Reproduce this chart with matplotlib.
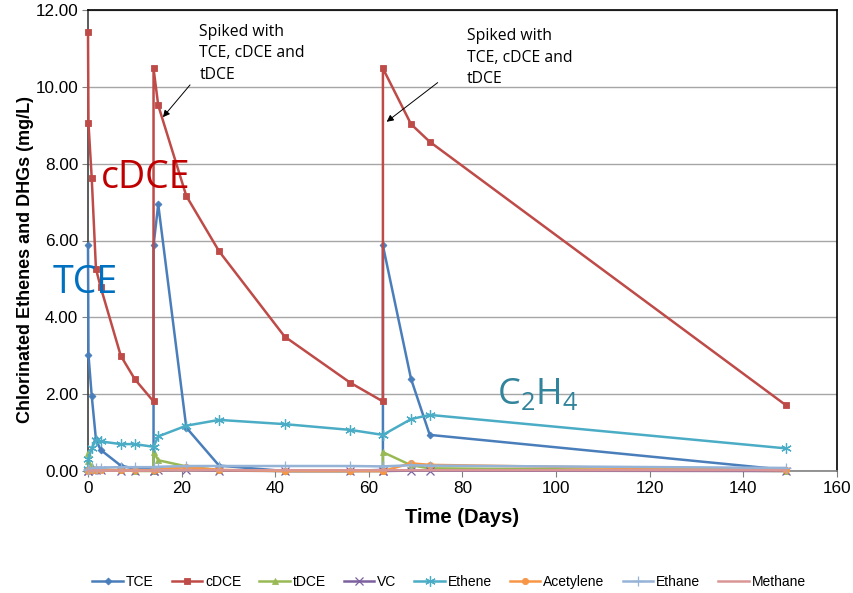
import matplotlib
matplotlib.use("Agg")
import matplotlib.pyplot as plt
import numpy as np

# ---- data ----
days = [0, 0.1, 0.8, 1.7, 2.7, 7, 10, 14, 14, 15, 21, 28, 42, 56, 63, 63, 69, 73, 149]
tce = [5.87, 3.02, 1.95, 0.82, 0.55, 0.14, 0.06, 0.04, 5.87, 6.94, 1.13, 0.14, 0.0, 0.0, 0.03, 5.87, 2.40, 0.94, 0.03]
cdce = [11.43, 9.05, 7.62, 5.26, 4.79, 3.00, 2.39, 1.81, 10.48, 9.52, 7.16, 5.72, 3.50, 2.30, 1.81, 10.48, 9.03, 8.57, 1.72]
tdce = [0.47, 0.25, 0.12, 0.06, 0.04, 0.02, 0.0, 0.0, 0.50, 0.28, 0.12, 0.02, 0.0, 0.0, 0.0, 0.49, 0.15, 0.07, 0.0]
vc = [0.0, 0.01, 0.02, 0.02, 0.02, 0.01, 0.01, 0.01, 0.01, 0.02, 0.03, 0.01, 0.0, 0.0, 0.0, 0.0, 0.01, 0.01, 0.0]
ethene = [0.05, 0.30, 0.60, 0.80, 0.77, 0.70, 0.70, 0.63, 0.63, 0.90, 1.18, 1.33, 1.22, 1.07, 0.94, 0.94, 1.35, 1.46, 0.59]
acetylene = [0.01, 0.02, 0.03, 0.03, 0.03, 0.02, 0.02, 0.02, 0.02, 0.05, 0.10, 0.03, 0.0, 0.0, 0.0, 0.0, 0.20, 0.16, 0.02]
ethane = [0.03, 0.05, 0.07, 0.08, 0.09, 0.10, 0.10, 0.10, 0.10, 0.11, 0.13, 0.13, 0.13, 0.13, 0.12, 0.12, 0.15, 0.14, 0.08]
methane = [0.01, 0.01, 0.01, 0.01, 0.01, 0.01, 0.01, 0.01, 0.01, 0.02, 0.02, 0.02, 0.02, 0.02, 0.02, 0.02, 0.02, 0.02, 0.02]

series_names = ["TCE", "cDCE", "tDCE", "VC", "Ethene", "Acetylene", "Ethane", "Methane"]
series_vals = [tce, cdce, tdce, vc, ethene, acetylene, ethane, methane]
colors = ["#4A7EBB", "#BE4B48", "#98B954", "#7D60A0", "#4BACC6", "#F79646", "#95B3D7", "#D99694"]
markers = ["D", "s", "^", "x", (6, 2, 0), "o", "+", None]
msizes = [3.5, 4.8, 5, 5.5, 7.5, 4.5, 7.5, 0]

x_ticks = [0, 20, 40, 60, 80, 100, 120, 140, 160]
y_ticks = [0, 2, 4, 6, 8, 10, 12]

plt.rcParams['font.family'] = ['Liberation Sans', 'DejaVu Sans']

fig = plt.figure(figsize=(8.54, 5.93), dpi=100)
ax = fig.add_axes([88/854, 1-471/593, (837-88)/854, (471-10)/593])

for name, vals, c, m, ms in zip(series_names, series_vals, colors, markers, msizes):
    kw = dict(color=c, lw=1.8, label=name)
    if m is not None:
        kw.update(marker=m, markersize=ms, markeredgewidth=0.9 if m in ("x", "+", (6, 2, 0)) else 0.6,
                  markeredgecolor=c, markerfacecolor=c)
    ax.plot(days, vals, zorder=3, clip_on=False, **kw)

ax.set_xlim(0, 160)
ax.set_ylim(0, 12)
ax.set_xticks(x_ticks)
ax.set_yticks(y_ticks)
ax.set_xticklabels([str(v) for v in x_ticks])
ax.set_yticklabels([f"{v:.2f}" for v in y_ticks])
ax.tick_params(axis='both', labelsize=12.3, direction='out', length=4, color='#808080', labelcolor='#000000')
ax.tick_params(axis='y', pad=3)
ax.yaxis.grid(True, color='#A6A6A6', lw=1)
ax.set_axisbelow(True)
for s in ['top', 'right']:
    ax.spines[s].set_color('black')
    ax.spines[s].set_linewidth(1.2)
ax.spines['left'].set_color('#404040')
ax.spines['bottom'].set_color('#808080')
ax.spines['left'].set_linewidth(1.2)
ax.spines['bottom'].set_linewidth(1.2)

ax.set_xlabel("Time (Days)", fontsize=14.5, fontweight='bold', labelpad=8)
ax.set_ylabel("Chlorinated Ethenes and DHGs (mg/L)", fontsize=13, fontweight='bold')
ax.yaxis.set_label_coords(-0.072, 0.458)

# annotations
ann_font = ['Open Sans', 'DejaVu Sans']
ann_text = "Spiked with\nTCE, cDCE and\ntDCE"
ax.text(23.8, 11.64, ann_text, fontsize=11.3, family=ann_font, va='top', ha='left', linespacing=1.45)
ax.text(81.0, 11.52, ann_text, fontsize=11.3, family=ann_font, va='top', ha='left', linespacing=1.45)
ax.annotate("", xy=(16.0, 9.21), xytext=(21.8, 10.05),
            arrowprops=dict(arrowstyle='-|>', color='black', lw=0.7, shrinkA=0, shrinkB=0))
ax.annotate("", xy=(63.8, 9.09), xytext=(74.7, 10.11),
            arrowprops=dict(arrowstyle='-|>', color='black', lw=0.7, shrinkA=0, shrinkB=0))

fig.text(146/854, 1-178/593, "cDCE", color='#C00000', fontsize=27, family=ann_font, ha='center', va='center')
fig.text(85/854, 1-283/593, "TCE", color='#0070C0', fontsize=27, family=ann_font, ha='center', va='center')
fig.text(538/854, 1-395/593, r"C$_\mathregular{2}$H$_\mathregular{4}$", color='#31849B', fontsize=26,
         family=ann_font, ha='center', va='center')

fig.legend(loc='center', bbox_to_anchor=(449/854, 1-582/593), ncol=8, frameon=False, fontsize=10,
           handlelength=2.2, columnspacing=1.3, handletextpad=0.2)

fig.savefig("out.png", dpi=100)
